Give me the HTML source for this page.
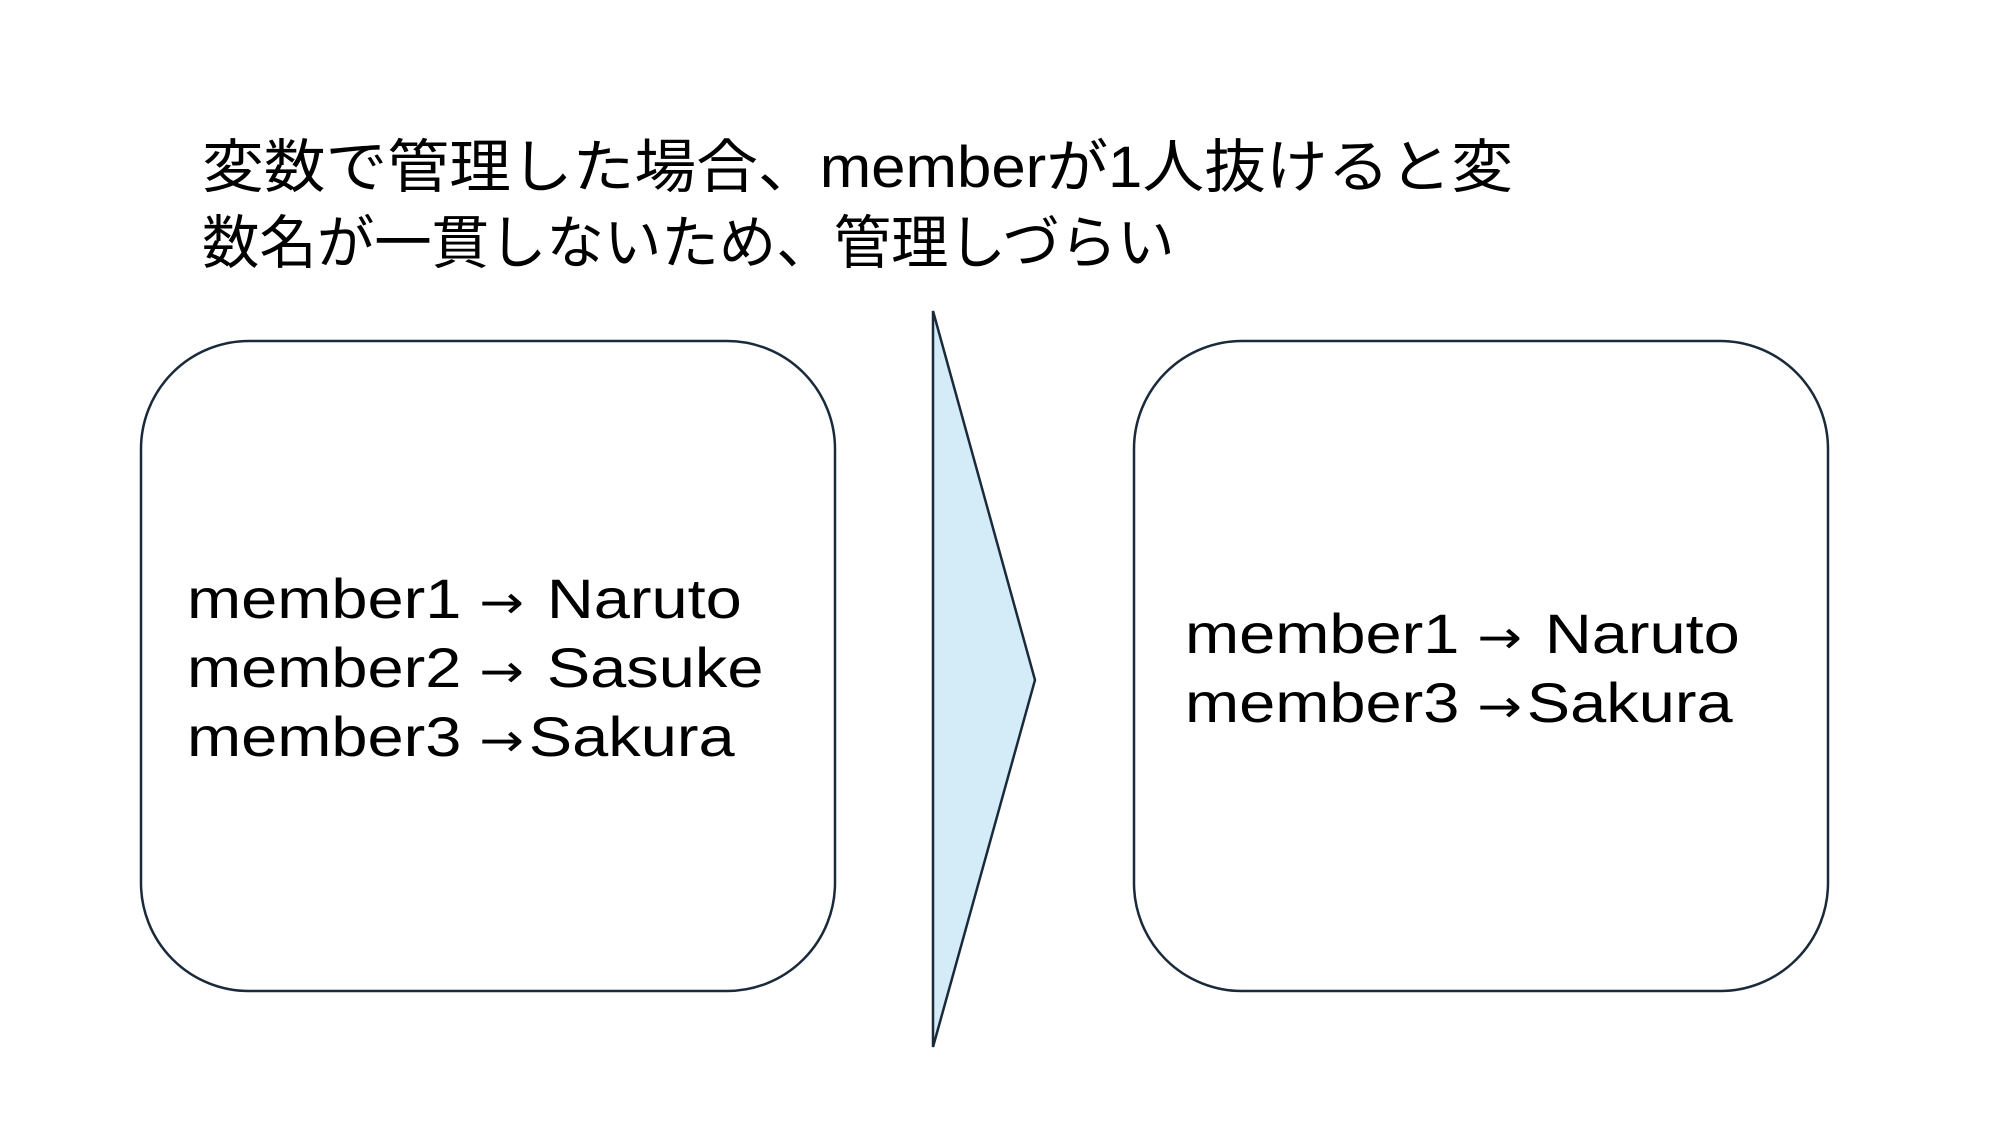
<!DOCTYPE html>
<html><head><meta charset="utf-8"><style>
html,body{margin:0;padding:0;background:#fff;}
body{width:1998px;height:1124px;position:relative;overflow:hidden;font-family:"Liberation Sans","Noto Sans CJK JP",sans-serif;color:#000;}
.t{position:absolute;white-space:nowrap;}
.a{font-family:"DejaVu Sans",sans-serif;font-size:46px;margin-right:4px;}
</style></head><body>
<svg width="1998" height="1124" style="position:absolute;left:0;top:0">
<rect x="141" y="341" width="694" height="650" rx="108" ry="108" fill="#fff" stroke="#1a2a3a" stroke-width="2.5"/>
<rect x="1134" y="341" width="694" height="650" rx="108" ry="108" fill="#fff" stroke="#1a2a3a" stroke-width="2.5"/>
<polygon points="933,311 1035,680 933,1047" fill="#d3ecf8" stroke="#1a2a3a" stroke-width="2.5"/>
</svg>
<div class="t" style="left:202px;top:130px;font-size:58px;line-height:76px;transform:scaleX(1.065);transform-origin:left;">変数で管理した場合、memberが1人抜けると変</div>
<div class="t" style="left:202px;top:206px;font-size:58px;line-height:76px;transform:scaleX(0.99);transform-origin:left;">数名が一貫しないため、管理しづらい</div>
<div class="t" style="left:187px;top:566px;font-size:56px;line-height:65px;transform:scaleX(1.16);transform-origin:left;">member1 <span class="a">→</span> Naruto<br>member2 <span class="a">→</span> Sasuke<br>member3 <span class="a">→</span>Sakura</div>
<div class="t" style="left:1185px;top:601px;font-size:56px;line-height:65px;transform:scaleX(1.16);transform-origin:left;">member1 <span class="a">→</span> Naruto<br>member3 <span class="a">→</span>Sakura</div>
</body></html>
